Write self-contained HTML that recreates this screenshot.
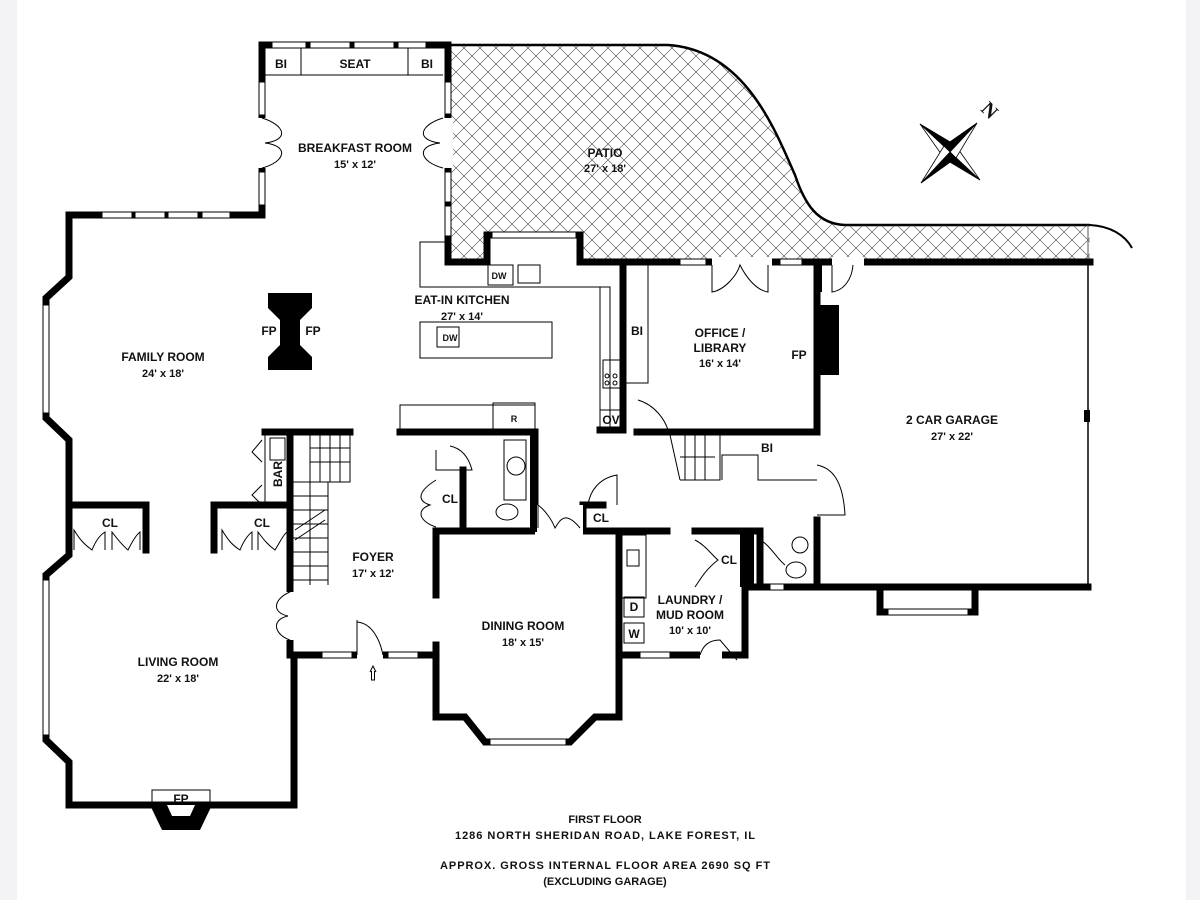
<!DOCTYPE html>
<html><head><meta charset="utf-8"><style>
html,body{margin:0;padding:0;background:#fff}
svg{display:block}
text{font-weight:bold;fill:#111;text-anchor:middle}
</style></head><body>
<svg width="1200" height="900" viewBox="0 0 1200 900" xmlns="http://www.w3.org/2000/svg" font-family="Liberation Sans, Arial, sans-serif" font-size="12">
<defs>
<pattern id="hatch" width="16" height="16" patternUnits="userSpaceOnUse">
<path d="M0,0 L16,16 M16,0 L0,16" stroke="#444" stroke-width="0.6"/>
</pattern>
</defs>
<rect x="0" y="0" width="17" height="900" fill="#f3f3f6"/>
<rect x="1186" y="0" width="14" height="900" fill="#f3f3f6"/>

<path d="M448,45 L668,45 C745,50 775,130 795,175 C805,205 818,224 845,225 L1090,225 L1090,262 L580,262 L580,235 L487,235 L487,262 L448,262 Z" fill="url(#hatch)" stroke="none"/>
<path d="M448,45 L668,45 C745,50 775,130 795,175 C805,205 818,224 845,225 L1090,225" fill="none" stroke="#000" stroke-width="2.5"/>
<path d="M1090,225 C1110,226 1125,235 1132,248" fill="none" stroke="#000" stroke-width="2"/>
<line x1="1088" y1="225" x2="1088" y2="262" stroke="#555" stroke-width="1"/>

<g stroke="#000" stroke-width="7" fill="none" stroke-linecap="square">
<polyline points="262,215 262,45 448,45 448,262 487,262 487,235 580,235 580,262 1090,262"/>
<polyline points="262,215 69,215 69,277 46,298 46,418 69,440 69,555 46,575 46,740 69,762 69,805 294,805 294,655 436,655 436,717 465,717 485,742 570,742 595,717 619,717"/>
<polyline points="290,432 290,590"/>
<polyline points="290,640 290,655"/>
<polyline points="265,432 350,432"/>
<polyline points="69,505 146,505 146,550"/>
<polyline points="214,550 214,505 290,505"/>
<polyline points="400,432 535,432 535,531 436,531 436,595"/>
<polyline points="436,645 436,655"/>
<polyline points="463,470 463,531"/>
<polyline points="583,531 583,505 603,505"/>
<polyline points="583,531 667,531"/>
<polyline points="619,531 619,717"/>
<polyline points="695,531 760,531"/>
<polyline points="623,262 623,430 600,430"/>
<polyline points="637,432 817,432"/>
<polyline points="817,262 817,432"/>
<polyline points="817,520 817,587 1088,587"/>
<polyline points="745,540 745,655 720,655"/>
<polyline points="619,655 700,655"/>
<polyline points="745,587 817,587"/>
<polyline points="880,587 880,612 975,612 975,587"/>
<polyline points="760,531 760,587"/>
</g>
<line x1="1088" y1="262" x2="1088" y2="587" stroke="#000" stroke-width="1.5"/>
<rect x="1084" y="410" width="6" height="12" fill="#000"/>
<g fill="#fff" stroke="#000" stroke-width="1">
<rect x="272" y="42" width="34" height="6"/><rect x="310" y="42" width="40" height="6"/><rect x="354" y="42" width="40" height="6"/><rect x="398" y="42" width="28" height="6"/>
<rect x="259" y="82" width="6" height="33"/><rect x="259" y="172" width="6" height="33"/>
<rect x="445" y="82" width="6" height="32"/><rect x="445" y="172" width="6" height="30"/><rect x="445" y="206" width="6" height="30"/>
<rect x="102" y="212" width="30" height="6"/><rect x="135" y="212" width="30" height="6"/><rect x="168" y="212" width="30" height="6"/><rect x="202" y="212" width="28" height="6"/>
<rect x="43" y="305" width="6" height="108"/><rect x="43" y="580" width="6" height="155"/>
<rect x="322" y="652" width="30" height="6"/><rect x="388" y="652" width="30" height="6"/>
<rect x="490" y="739" width="76" height="6"/>
<rect x="492" y="232" width="84" height="6"/>
<rect x="680" y="259" width="26" height="6"/><rect x="780" y="259" width="22" height="6"/>
<rect x="888" y="609" width="80" height="6"/>
<rect x="640" y="652" width="30" height="6"/><rect x="770" y="584" width="14" height="6"/>
</g>
<g fill="#fff"><rect x="257" y="118" width="10" height="50"/><rect x="443" y="118" width="10" height="50"/>
<rect x="357" y="650" width="26" height="10"/><rect x="286" y="592" width="10" height="48"/>
<rect x="712" y="257" width="60" height="10"/><rect x="832" y="257" width="32" height="10"/>
<rect x="700" y="650" width="22" height="10"/><rect x="535" y="505" width="48" height="30"/></g>
<g fill="none" stroke="#000" stroke-width="1">
<path d="M262,118 C285,125 290,140 265,143 C290,146 285,162 262,168"/>
<path d="M443,118 C420,125 415,140 440,143 C415,146 420,162 443,168"/>
<path d="M357,620 L357,655 M357,622 C372,623 380,640 383,655"/>
<path d="M290,592 C275,598 270,612 288,616 C270,620 275,635 290,640"/>
<path d="M712,265 L712,292 C725,290 737,275 740,265 C745,275 755,290 768,292 L768,265"/>
<path d="M832,265 L832,292 C845,290 852,278 853,265"/>
<path d="M538,528 L538,505 C545,510 552,520 555,528 C560,520 565,510 580,528"/>
<path d="M617,505 L617,475 C600,478 590,490 588,505"/>
<path d="M817,465 C832,468 843,480 845,515 L817,515"/>
<path d="M638,400 C655,405 665,420 668,430"/>
<path d="M436,450 L436,470 L472,470 C468,455 460,448 450,446"/>
<path d="M436,480 C420,490 415,500 430,505 C415,510 420,522 436,527"/>
<path d="M695,540 C705,545 712,555 718,560 C705,570 700,580 695,587"/>
<path d="M760,540 C770,545 778,560 785,565"/>
<path d="M700,655 C703,645 710,640 720,640 L737,660"/>
</g>
<g fill="none" stroke="#000" stroke-width="1">
<path d="M74,550 L74,530 C80,540 85,545 92,550 C96,540 100,535 105,532 L105,550 M112,550 L112,532 C118,540 122,545 128,550 C132,542 136,535 140,532 L140,550"/>
<path d="M222,550 L222,530 C228,540 232,545 240,550 C244,540 248,535 252,532 L252,550 M258,550 L258,532 C264,540 268,545 275,550 C280,542 283,535 287,532 L287,550"/>
<path d="M262,440 L252,452 L262,462 M262,485 L252,495 L262,505"/>
<rect x="265" y="432" width="25" height="73"/>
<rect x="270" y="438" width="15" height="22"/>
<path d="M290,432 L350,432 L350,482 L328,482 L328,585 M310,432 L310,482 M320,432 L320,482 M330,432 L330,482 M340,432 L340,482 M310,448 L350,448 M310,462 L350,462 M290,482 L328,482 M290,496 L328,496 M290,510 L328,510 M290,524 L328,524 M290,538 L328,538 M290,552 L328,552 M290,566 L328,566 M290,580 L328,580 M310,482 L310,585"/>
<path d="M295,530 L325,510 M295,540 L325,520"/>
<path d="M420,262 L420,242 L448,242 M420,262 L420,287 L610,287 L610,430 M600,287 L600,410 L622,410 M600,410 L600,430"/>
<rect x="420" y="322" width="132" height="36"/>
<rect x="400" y="405" width="135" height="27"/><rect x="493" y="403" width="42" height="29"/>
<rect x="488" y="265" width="25" height="20"/><rect x="518" y="265" width="22" height="18"/>
<rect x="437" y="327" width="22" height="20"/>
<rect x="603" y="360" width="17" height="28"/>
<circle cx="607" cy="376" r="2"/><circle cx="615" cy="376" r="2"/><circle cx="607" cy="383" r="2"/><circle cx="615" cy="383" r="2"/>
<rect x="625" y="265" width="23" height="118"/>
<rect x="504" y="440" width="22" height="60"/><ellipse cx="516" cy="466" rx="9" ry="9"/>
<ellipse cx="507" cy="512" rx="11" ry="8"/>
<rect x="622" y="535" width="24" height="63"/><rect x="627" y="550" width="12" height="16"/>
<rect x="624" y="597" width="20" height="20"/><rect x="624" y="623" width="20" height="20"/>
<path d="M662,432 L720,432 L720,480 L680,480 M670,435 L680,480 M685,435 L685,480 M695,435 L695,480 M705,435 L705,480 M680,457 L715,457"/>
<path d="M720,432 L720,480 M722,480 L722,455 L758,455 L758,480 L817,480"/>
<ellipse cx="796" cy="570" rx="10" ry="8"/><ellipse cx="800" cy="545" rx="8" ry="8"/>
<path d="M370,672 L373,666 L376,672 M371.5,671 L371.5,680 L374.5,680 L374.5,671"/>
<rect x="152" y="790" width="58" height="15"/>
</g>
<g fill="none" stroke="#000" stroke-width="1"><path d="M265,75 L443,75 M301,48 L301,75 M408,48 L408,75"/></g>
<g fill="#000">
<path d="M268,293 L312,293 L312,308 L300,320 L300,345 L312,357 L312,370 L268,370 L268,357 L280,345 L280,320 L268,308 Z"/>
<path d="M150,805 L212,805 L200,830 L162,830 Z"/>
<rect x="817" y="305" width="22" height="70"/>
<rect x="530" y="432" width="7" height="100"/>
<rect x="740" y="531" width="14" height="56"/>
<rect x="815" y="262" width="7" height="30"/>
</g>
<path d="M167,805 L195,805 L190,816 L172,816 Z" fill="#fff"/>
<g stroke="#000" stroke-width="0.8" stroke-linejoin="miter">
<path d="M950,152 L920,124 L957,146 Z" fill="#000"/>
<path d="M950,152 L920,124 L944,158 Z" fill="#fff"/>
<path d="M950,152 L980,180 L943,158 Z" fill="#000"/>
<path d="M950,152 L980,180 L956,146 Z" fill="#fff"/>
<path d="M950,152 L977,123 L944,146 Z" fill="#000"/>
<path d="M950,152 L977,123 L956,158 Z" fill="#fff"/>
<path d="M950,152 L921,183 L956,158 Z" fill="#000"/>
<path d="M950,152 L921,183 L944,146 Z" fill="#fff"/>
</g>
<text x="990" y="117" transform="rotate(45 990 110)" font-size="20" font-family="Liberation Serif, serif">N</text>
<text x="281" y="68">BI</text><text x="355" y="68">SEAT</text><text x="427" y="68">BI</text>
<text x="355" y="152">BREAKFAST ROOM</text><text x="355" y="168" font-size="11">15' x 12'</text>
<text x="605" y="157">PATIO</text><text x="605" y="172" font-size="11">27' x 18'</text>
<text x="163" y="361">FAMILY ROOM</text><text x="163" y="377" font-size="11">24' x 18'</text>
<text x="269" y="335">FP</text><text x="313" y="335">FP</text>
<text x="462" y="304">EAT-IN KITCHEN</text><text x="462" y="320" font-size="11">27' x 14'</text>
<text x="499" y="279" font-size="9">DW</text><text x="450" y="341" font-size="9">DW</text>
<text x="514" y="422" font-size="9">R</text>
<text x="611" y="424">OV</text><text x="637" y="335">BI</text>
<text x="720" y="337">OFFICE /</text><text x="720" y="352">LIBRARY</text><text x="720" y="367" font-size="11">16' x 14'</text>
<text x="799" y="359">FP</text>
<text x="952" y="424">2 CAR GARAGE</text><text x="952" y="440" font-size="11">27' x 22'</text>
<text x="767" y="452">BI</text>
<text x="110" y="527">CL</text><text x="262" y="527">CL</text>
<text x="450" y="503">CL</text><text x="601" y="522">CL</text><text x="729" y="564">CL</text>
<text x="278" y="478" transform="rotate(-90 278 474)">BAR</text>
<text x="373" y="561">FOYER</text><text x="373" y="577" font-size="11">17' x 12'</text>
<text x="523" y="630">DINING ROOM</text><text x="523" y="646" font-size="11">18' x 15'</text>
<text x="690" y="604">LAUNDRY /</text><text x="690" y="619">MUD ROOM</text><text x="690" y="634" font-size="11">10' x 10'</text>
<text x="634" y="611">D</text><text x="634" y="638">W</text>
<text x="178" y="666">LIVING ROOM</text><text x="178" y="682" font-size="11">22' x 18'</text>
<text x="181" y="803">FP</text>
<text x="605" y="823" font-size="11">FIRST FLOOR</text>
<text x="605" y="839" font-size="11" textLength="300">1286 NORTH SHERIDAN ROAD, LAKE FOREST, IL</text>
<text x="605" y="869" font-size="11" textLength="330">APPROX. GROSS INTERNAL FLOOR AREA 2690 SQ FT</text>
<text x="605" y="885" font-size="11">(EXCLUDING GARAGE)</text>
</svg>
</body></html>
